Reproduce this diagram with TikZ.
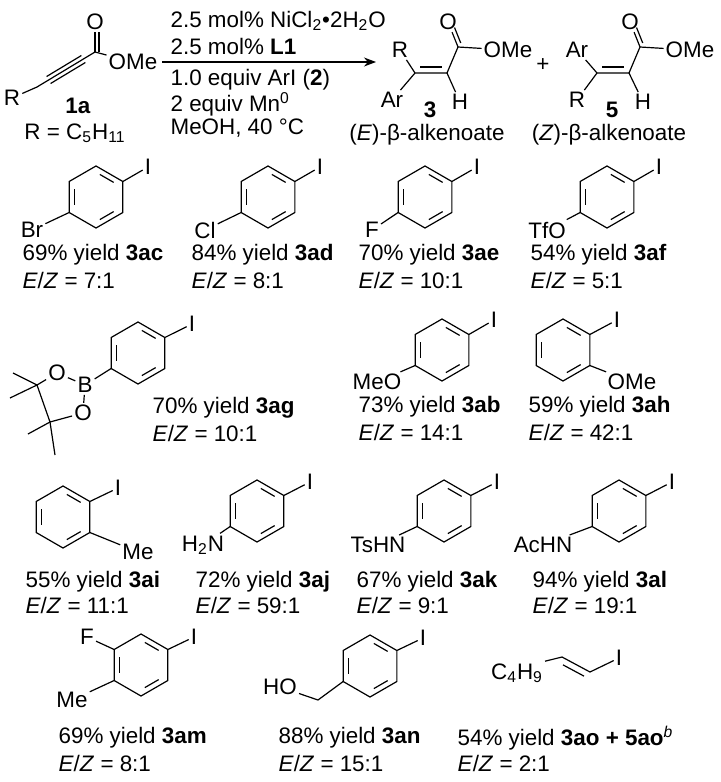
\documentclass[tikz,border=0pt]{standalone}
\usepackage{fontspec}
\setmainfont{Liberation Sans}
\usetikzlibrary{calc,arrows.meta}

% benzene ring: name, x, y (vertex 1 points up-right)
\newcommand{\ring}[3]{%
  \coordinate (#1) at (#2,#3);
  \foreach \k/\a in {1/-30,2/-90,3/-150,4/150,5/90,6/30}
    \coordinate (#1-\k) at ($(#1)+(\a:31)$);
  \draw (#1-1)--(#1-2)--(#1-3)--(#1-4)--(#1-5)--(#1-6)--cycle;
  \foreach \p/\q in {1/2,3/4,5/6}
    \draw[shorten >=2.2pt,shorten <=2.2pt] ($(#1)!0.8!(#1-\p)$) -- ($(#1)!0.8!(#1-\q)$);
}

\begin{document}
\begin{tikzpicture}[x=0.5pt,y=-0.5pt,line width=0.6pt,
    atom/.style={inner sep=0.8pt,font=\fontsize{11.2}{13}\selectfont},
    lbl/.style={inner sep=0pt,anchor=west,font=\fontsize{11.2}{13}\selectfont}]
\useasboundingbox (0,0) rectangle (721,782);

% starting alkyne 1a
\node[atom] (o1) at (95,22) {O};
\coordinate (c1) at (95,52);
\coordinate (a1) at (37,87);
\node[atom] (ome1) at (133,62) {OMe};
\node[atom] (r1) at (12,98) {R};
\draw (r1) -- (a1) -- (c1) -- (ome1);
\draw (c1) -- (o1);
\draw ([xshift=2pt]c1) -- ([xshift=2pt]o1.south);
\draw ($(a1)!0.2!(c1)+(2,3.5)$) -- ($(a1)!0.8!(c1)+(2,3.5)$);
\draw ($(a1)!0.2!(c1)+(-2,-3.5)$) -- ($(a1)!0.8!(c1)+(-2,-3.5)$);
\node[atom] (n1a) at (78,106) {\textbf{1a}};
\node[atom] (rdef) at (75,133) {R = C\textsubscript{5}H\textsubscript{11}};

% conditions
\coordinate (arrs) at (162,62);
\coordinate (arre) at (376,62);
\draw[-{Stealth[length=6pt,width=4.5pt]}] (arrs) -- (arre);
\node[lbl] (cond1) at (170,21) {2.5 mol\% NiCl\textsubscript{2}•2H\textsubscript{2}O};
\node[lbl] (cond2) at (170,46) {2.5 mol\% \textbf{L1}};
\node[lbl] (cond3) at (170,80) {1.0 equiv ArI (\textbf{2})};
\node[lbl] (cond4) at (170,104) {2 equiv Mn\textsuperscript{0}};
\node[lbl] (cond5) at (170,128) {MeOH, 40 °C};

% product 3
\coordinate (e1) at (415,73);
\coordinate (e2) at (447,73);
\coordinate (ec) at (458,47);
\node[atom] (eo) at (448,22) {O};
\node[atom] (eome) at (508,50) {OMe};
\node[atom] (er) at (400,50) {R};
\node[atom] (ear) at (392,100) {Ar};
\node[atom] (eh) at (460,102) {H};
\draw (er) -- (e1) -- (e2) -- (ec) -- (eome);
\draw (ear) -- (e1);
\draw (e2) -- (eh);
\draw[shorten >=2.5pt,shorten <=2.5pt] ($(e1)+(0,-6)$) -- ($(e2)+(0,-6)$);
\draw (ec) -- (eo);
\draw ($(ec)!0.1!(eo)+(3.7,-1.5)$) -- ($(ec)!0.72!(eo)+(3.7,-1.5)$);
\node[atom] (n3) at (430,110) {\textbf{3}};
\node[atom] (elab) at (427,135) {(\textit{E})-β-alkenoate};
\node[atom] (plus) at (543,65) {+};

% product 5
\coordinate (z1) at (597,73);
\coordinate (z2) at (629,73);
\coordinate (zc) at (640,47);
\node[atom] (zo) at (630,22) {O};
\node[atom] (zome) at (690,50) {OMe};
\node[atom] (zar) at (577,50) {Ar};
\node[atom] (zr) at (577,100) {R};
\node[atom] (zh) at (643,102) {H};
\draw (zar) -- (z1) -- (z2) -- (zc) -- (zome);
\draw (zr) -- (z1);
\draw (z2) -- (zh);
\draw[shorten >=2.5pt,shorten <=2.5pt] ($(z1)+(0,-6)$) -- ($(z2)+(0,-6)$);
\draw (zc) -- (zo);
\draw ($(zc)!0.1!(zo)+(3.7,-1.5)$) -- ($(zc)!0.72!(zo)+(3.7,-1.5)$);
\node[atom] (n5) at (612,110) {\textbf{5}};
\node[atom] (zlab) at (609,135) {(\textit{Z})-β-alkenoate};

% row 1
\foreach \nm/\cx/\sub/\sx/\tx/\yl/\ez in {
    ac/96/Br/32/22/69/7,
    ad/268/Cl/205/191/84/8,
    ae/425/F/372/358/70/10,
    af/607/TfO/547/530/54/5}{
  \ring{r\nm}{\cx}{197}
  \node[atom] (i\nm) at (\cx+52,167) {I};
  \node[atom] (s\nm) at (\sx,230) {\sub};
  \draw (r\nm-1) -- (i\nm);
  \draw (r\nm-4) -- (s\nm);
  \node[lbl] (y\nm) at (\tx,255) {\yl\% yield \textbf{3\nm}};
  \node[lbl] (ez\nm) at (\tx,280) {\textit{E}/\textit{Z} = \ez:1};
}

% row 2
\ring{rag}{138}{353}
\node[atom] (iag) at (192,324) {I};
\draw (rag-1) -- (iag);
\node[atom] (bag) at (85,385) {B};
\node[atom] (oag1) at (57,373) {O};
\node[atom] (oag2) at (83,413) {O};
\coordinate (qag1) at (37,385);
\coordinate (qag2) at (50,422);
\draw (rag-4) -- (bag);
\draw (bag) -- (oag1) -- (qag1) -- (qag2) -- (oag2) -- (bag);
\draw (qag1) -- (13,373);
\draw (qag1) -- (10,398);
\draw (qag2) -- (28,434);
\draw (qag2) -- (55,455);
\node[lbl] (yag) at (152,408) {70\% yield \textbf{3ag}};
\node[lbl] (ezag) at (152,433) {\textit{E}/\textit{Z} = 10:1};

\ring{rab}{442}{350}
\node[atom] (iab) at (494,320) {I};
\node[atom] (sab) at (377,382) {MeO};
\draw (rab-1) -- (iab);
\draw (rab-4) -- (sab);
\node[lbl] (yab) at (358,407) {73\% yield \textbf{3ab}};
\node[lbl] (ezab) at (358,432) {\textit{E}/\textit{Z} = 14:1};

\ring{rah}{563}{350}
\node[atom] (iah) at (617,320) {I};
\node[atom] (sah) at (632,382) {OMe};
\draw (rah-1) -- (iah);
\draw (rah-6) -- (sah);
\node[lbl] (yah) at (528,407) {59\% yield \textbf{3ah}};
\node[lbl] (ezah) at (528,432) {\textit{E}/\textit{Z} = 42:1};

% row 3
\ring{rai}{63}{517}
\node[atom] (iai) at (118,488) {I};
\node[atom] (sai) at (138,552) {Me};
\draw (rai-1) -- (iai);
\draw (rai-6) -- (sai);
\node[lbl] (yai) at (25,582) {55\% yield \textbf{3ai}};
\node[lbl] (ezai) at (25,605) {\textit{E}/\textit{Z} = 11:1};

\foreach \nm/\cx/\sub/\sx/\tx/\yl/\ez in {
    aj/257/H\textsubscript{2}N/203/195/72/59,
    ak/444/TsHN/378/356/67/9,
    al/619/AcHN/543/532/94/19}{
  \ring{r\nm}{\cx}{511}
  \node[atom] (i\nm) at (\cx+53,482) {I};
  \node[atom] (s\nm) at (\sx,545) {\sub};
  \draw (r\nm-1) -- (i\nm);
  \draw (r\nm-4) -- (s\nm);
  \node[lbl] (y\nm) at (\tx,582) {\yl\% yield \textbf{3\nm}};
  \node[lbl] (ez\nm) at (\tx,605) {\textit{E}/\textit{Z} = \ez:1};
}

% row 4
\ring{ram}{141}{665}
\node[atom] (iam) at (194,637) {I};
\node[atom] (fam) at (87,637) {F};
\node[atom] (mam) at (72,700) {Me};
\draw (ram-1) -- (iam);
\draw (ram-3) -- (fam);
\draw (ram-4) -- (mam);
\node[lbl] (yam) at (58,738) {69\% yield \textbf{3am}};
\node[lbl] (ezam) at (58,763) {\textit{E}/\textit{Z} = 8:1};

\ring{ran}{370}{666}
\node[atom] (ian) at (423,638) {I};
\coordinate (can) at (318,700);
\node[atom] (hoan) at (280,687) {HO};
\draw (ran-1) -- (ian);
\draw (ran-4) -- (can) -- (hoan);
\node[lbl] (yan) at (278,738) {88\% yield \textbf{3an}};
\node[lbl] (ezan) at (278,763) {\textit{E}/\textit{Z} = 15:1};

\node[atom] (bu) at (517,673) {C\textsubscript{4}H\textsubscript{9}};
\coordinate (va) at (562,657);
\coordinate (vb) at (590,672);
\node[atom] (iao) at (619,658) {I};
\draw (bu.north east) -- (va) -- (vb) -- (iao);
\draw[shorten >=2pt,shorten <=2pt] ($(va)+(-2.5,6)$) -- ($(vb)+(-2.5,6)$);
\node[lbl] (yao) at (457,738) {54\% yield \textbf{3ao + 5ao}\textsuperscript{\textit{b}}};
\node[lbl] (ezao) at (457,763) {\textit{E}/\textit{Z} = 2:1};
\end{tikzpicture}
\end{document}
